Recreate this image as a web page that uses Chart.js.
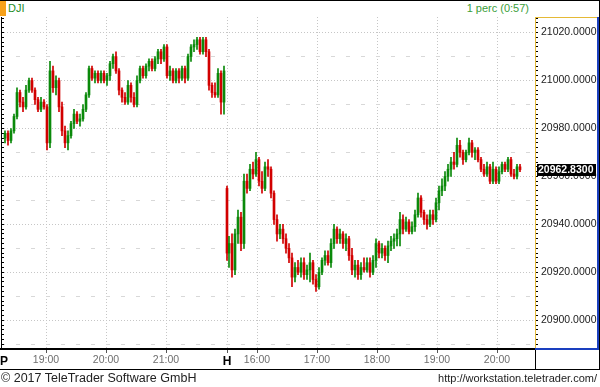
<!DOCTYPE html>
<html>
<head>
<meta charset="utf-8">
<script src="https://cdn.jsdelivr.net/npm/chart.js@4.4.1/dist/chart.umd.min.js"></script>
<style>
  html, body { margin: 0; padding: 0; background: #fff; }
  #frame { position: relative; width: 600px; height: 387px; overflow: hidden; font-family: "Liberation Sans", Arial, sans-serif; }
  .abs { position: absolute; white-space: nowrap; }
  #plot { position: absolute; left: 0; top: 17px; width: 598px; height: 352px; }
</style>
</head>
<body>
<div id="frame">
  <div class="abs" style="left:0;top:0;width:600px;height:1px;background:#000"></div>
  <div class="abs" style="left:0;top:1px;width:6px;height:15px;background:#f7a11a"></div>
  <div class="abs" style="left:8px;top:3px;font-size:11px;line-height:11px;color:#1e8c1e">DJI</div>
  <div class="abs" style="right:71px;top:3px;font-size:11px;line-height:11px;color:#3a9e3a">1 perc (0:57)</div>

  <div id="plot"><canvas id="chart"></canvas></div>

  <!-- right value panel frame -->
  <div class="abs" style="left:535px;top:17px;width:62px;height:1px;background:#e5b936"></div>
  <div class="abs" style="left:597px;top:17px;width:2px;height:333px;background:#1a3fbf"></div>
  <div class="abs" style="left:535px;top:348px;width:64px;height:2px;background:#1a3fbf"></div>
  <div class="abs" style="left:599px;top:0;width:1px;height:370px;background:#000"></div>
  <!-- time axis frame -->
  <div class="abs" style="left:0;top:369px;width:600px;height:1px;background:#000"></div>
  <div class="abs" style="left:535px;top:350px;width:1px;height:20px;background:#000"></div>

  <div class="abs" style="left:1px;top:372px;font-size:12.5px;line-height:13px;color:#222">© 2017 TeleTrader Software GmbH</div>
  <div class="abs" style="right:3px;top:372px;font-size:11px;line-height:13px;color:#222">http://workstation.teletrader.com/</div>
</div>

<script>
// previous session (3-minute candles, 18:19 - 22:00)
const prevOpen = [20976,20978,20975,20979,20985,20995,20991,20989,20996,21000,20996,20992,20988,20991,20989,20974,21004,20997,21000,20989,20979,20974,20977,20982,20986,20983,20984,20988,20994,21005,21001,21003,21000,21003,21000,21002,21007,21010,21004,20996,20993,20991,20998,20993,20990,21000,21005,21002,21006,21008,21005,21009,21012,21009,21014,21002,21004,21000,21004,21001,21005,21001,21010,21014,21015,21017,21012,21017,21012,20998,20995,20994,21003,20991];
const prevHigh = [20979,20979,20980,20986,20997,20996,20993,20998,21001,21001,20997,20993,20993,20992,20990,21008,21006,21002,21001,20991,20981,20979,20983,20988,20987,20986,20990,20995,21006,21006,21004,21004,21004,21004,21003,21008,21011,21012,21005,20997,20995,21000,20999,20995,21002,21006,21006,21007,21009,21009,21010,21013,21013,21015,21015,21006,21005,21005,21005,21006,21006,21011,21015,21017,21018,21018,21018,21018,21013,20999,20999,21005,21004,21006];
const prevLow = [20974,20973,20974,20978,20984,20989,20987,20988,20995,20995,20990,20987,20987,20988,20971,20972,20995,20994,20987,20977,20972,20971,20976,20980,20982,20981,20983,20987,20993,21000,20999,20999,20999,20999,20998,21000,21005,21003,20994,20991,20990,20990,20991,20989,20989,20999,21001,21001,21004,21004,21004,21007,21007,21008,21001,21000,20999,20999,20999,21000,20999,21000,21008,21012,21013,21011,21011,21010,20996,20993,20993,20993,20986,20986];
const prevClose = [20978,20975,20979,20985,20995,20991,20989,20996,21000,20996,20992,20988,20991,20989,20974,21004,20997,21000,20989,20979,20974,20977,20982,20986,20983,20984,20988,20994,21005,21001,21003,21000,21003,21000,21002,21007,21010,21004,20996,20993,20991,20998,20993,20990,21000,21005,21002,21006,21008,21005,21009,21012,21009,21014,21002,21004,21000,21004,21001,21005,21001,21010,21014,21015,21017,21012,21017,21012,20998,20995,20994,21003,20991,21004];

// current session (opening minute, then 3-minute candles from 15:32)
const dayOpen = [20955,20928,20932,20921,20936,20943,20932,20958,20955,20963,20961,20967,20958,20955,20964,20963,20953,20942,20936,20938,20934,20930,20926,20918,20922,20920,20924,20919,20921,20924,20917,20914,20920,20925,20927,20924,20932,20938,20934,20936,20932,20934,20927,20921,20923,20919,20922,20921,20924,20920,20925,20932,20928,20930,20927,20931,20933,20934,20936,20942,20938,20941,20937,20939,20944,20951,20945,20942,20940,20944,20942,20949,20954,20956,20960,20963,20966,20965,20973,20970,20967,20970,20974,20970,20971,20967,20963,20961,20964,20958,20963,20958,20962,20965,20963,20967,20961,20960,20964];
const dayHigh = [20956,20935,20936,20938,20946,20945,20961,20961,20965,20966,20970,20968,20962,20966,20967,20964,20954,20944,20940,20940,20936,20932,20928,20924,20925,20926,20926,20923,20928,20925,20919,20922,20926,20929,20929,20934,20940,20939,20938,20937,20936,20935,20930,20925,20925,20924,20926,20926,20926,20927,20934,20933,20932,20931,20933,20935,20936,20938,20945,20944,20943,20942,20941,20946,20953,20952,20946,20944,20946,20946,20951,20956,20959,20962,20965,20968,20970,20976,20975,20971,20971,20976,20975,20972,20972,20968,20965,20966,20965,20966,20964,20964,20966,20966,20968,20968,20963,20965,20965];
const dayLow = [20925,20922,20918,20919,20932,20929,20930,20953,20954,20959,20960,20956,20953,20954,20960,20951,20940,20933,20934,20932,20928,20924,20914,20916,20919,20918,20917,20917,20916,20915,20912,20913,20919,20923,20923,20922,20930,20932,20932,20930,20929,20925,20919,20918,20917,20917,20920,20920,20918,20919,20922,20926,20926,20925,20924,20929,20930,20931,20931,20936,20937,20936,20936,20937,20943,20943,20940,20938,20939,20940,20941,20946,20952,20954,20958,20960,20963,20964,20968,20965,20966,20969,20968,20967,20966,20962,20960,20960,20957,20957,20957,20957,20961,20962,20962,20960,20959,20959,20962];
const dayClose = [20928,20932,20921,20936,20943,20932,20958,20955,20963,20961,20967,20958,20955,20964,20963,20953,20942,20936,20938,20934,20930,20926,20918,20922,20920,20924,20919,20921,20924,20917,20914,20920,20925,20927,20924,20932,20938,20934,20936,20932,20934,20927,20921,20923,20919,20922,20921,20924,20920,20925,20932,20928,20930,20927,20931,20933,20934,20936,20942,20938,20941,20937,20939,20944,20951,20945,20942,20940,20944,20942,20949,20954,20956,20960,20963,20966,20965,20973,20970,20967,20970,20974,20970,20971,20967,20963,20961,20964,20958,20963,20958,20962,20965,20963,20967,20961,20960,20964,20962.83];

// time axis: minutes on a continuous axis (18:00 of the previous session = 0, 15:30 of today = 241)
const tickMinutes = [18, 60, 120, 180, 241, 271, 331, 391, 451, 511];
const tickLabels = ['P', '19:00', '20:00', '21:00', 'H', '16:00', '17:00', '18:00', '19:00', '20:00'];
const yMin = 20888, yMax = 21026.5;

const open = prevOpen.concat(dayOpen);
const high = prevHigh.concat(dayHigh);
const low = prevLow.concat(dayLow);
const close = prevClose.concat(dayClose);

// candle slots
const minutes = [];
prevOpen.forEach((_, i) => minutes.push(19 + 3 * i));
dayOpen.forEach((_, i) => minutes.push(i === 0 ? 241 : 240 + 3 * i));

const yTicks = [];
for (let v = yMin; v <= 21026; v += 2) yTicks.push(v);

const lastPrice = dayClose[dayClose.length - 1];
const FONT = '"Liberation Sans", Arial, sans-serif';
const upColor = '#0b8a0b', downColor = '#d20000';
const candleColor = ctx => close[ctx.dataIndex] >= open[ctx.dataIndex] ? upColor : downColor;
const multipleOf = (v, n) => Math.abs(v / n - Math.round(v / n)) < 1e-6;
const isSessionTick = ctx => ctx.tick && (ctx.tick.value === 18 || ctx.tick.value === 241);

const lastPriceBox = {
    id: 'lastPriceBox',
    afterDraw(chart) {
        const c = chart.ctx;
        const y = Math.round(chart.scales.y.getPixelForValue(lastPrice));
        c.save();
        c.fillStyle = '#000';
        c.fillRect(537, y - 6, 59, 12);
        c.fillStyle = '#fff';
        c.font = 'bold 10.5px ' + FONT;
        c.textBaseline = 'middle';
        c.fillText(lastPrice.toFixed(4), 538, y + 0.5);
        c.restore();
    }
};

new Chart(document.getElementById('chart'), {
    type: 'bar',
    data: {
        datasets: [
            {
                label: 'range',
                data: minutes.map((t, i) => ({ x: t, y: [low[i], high[i]] })),
                backgroundColor: candleColor,
                barThickness: 1,
                minBarLength: 1,
                grouped: false,
                borderWidth: 0
            },
            {
                label: 'body',
                data: minutes.map((t, i) => ({ x: t, y: [open[i], close[i]] })),
                backgroundColor: candleColor,
                barThickness: 2,
                minBarLength: 1,
                grouped: false,
                borderWidth: 0
            }
        ]
    },
    options: {
        responsive: true,
        maintainAspectRatio: false,
        animation: false,
        devicePixelRatio: 1,
        events: [],
        layout: { padding: 0 },
        plugins: { legend: { display: false }, tooltip: { enabled: false } },
        scales: {
            x: {
                type: 'linear',
                position: 'bottom',
                min: 15,
                max: 549,
                offset: false,
                afterBuildTicks: s => { s.ticks = tickMinutes.map(v => ({ value: v })); },
                afterFit: s => { s.height = 20; s.paddingLeft = 0; s.paddingRight = 0; },
                ticks: {
                    autoSkip: false,
                    maxRotation: 0,
                    padding: 1,
                    callback: v => tickLabels[tickMinutes.indexOf(v)],
                    font: ctx => isSessionTick(ctx)
                        ? { family: FONT, size: 12, weight: 'bold' }
                        : { family: FONT, size: 10.5 },
                    color: ctx => isSessionTick(ctx) ? '#000' : '#6e6e6e'
                },
                grid: {
                    offset: false,
                    color: ctx => (ctx.tick && ctx.tick.value === 18) ? 'rgba(0,0,0,0)' : '#c6c6c6',
                    tickLength: 4,
                    tickColor: ctx => (ctx.tick && ctx.tick.value === 18) ? 'rgba(0,0,0,0)' : '#555'
                },
                border: { display: true, color: '#000', width: 2, dash: [1, 2] }
            },
            y: {
                type: 'linear',
                position: 'right',
                min: yMin,
                max: yMax,
                beginAtZero: false,
                afterBuildTicks: s => { s.ticks = yTicks.map(v => ({ value: v })); },
                afterFit: s => { s.width = 63; s.paddingTop = 0; s.paddingBottom = 0; },
                ticks: {
                    autoSkip: false,
                    padding: 3,
                    callback: v => multipleOf(v, 20) ? v.toFixed(4) : '',
                    font: { family: FONT, size: 10.5 },
                    color: '#1a1a1a'
                },
                grid: {
                    color: ctx => !ctx.tick ? '#c6c6c6'
                        : multipleOf(ctx.tick.value, 20) ? '#c6c6c6'
                        : multipleOf(ctx.tick.value, 10) ? '#d8d8d8' : 'rgba(0,0,0,0)',
                    tickLength: 3,
                    tickColor: '#000'
                },
                border: {
                    display: true,
                    color: '#e5b936',
                    width: 1,
                    dash: ctx => (ctx.tick && multipleOf(ctx.tick.value, 20)) ? [1, 2] : [4, 11]
                }
            },
            yl: {
                type: 'linear',
                position: 'left',
                min: yMin,
                max: yMax,
                afterBuildTicks: s => { s.ticks = yTicks.map(v => ({ value: v })); },
                afterFit: s => { s.width = 1; s.paddingTop = 0; s.paddingBottom = 0; },
                ticks: { display: false },
                grid: { drawOnChartArea: false, tickLength: -3, tickColor: '#000' },
                border: { display: true, color: '#000', width: 1 }
            }
        }
    },
    plugins: [lastPriceBox]
});
</script>
</body>
</html>
